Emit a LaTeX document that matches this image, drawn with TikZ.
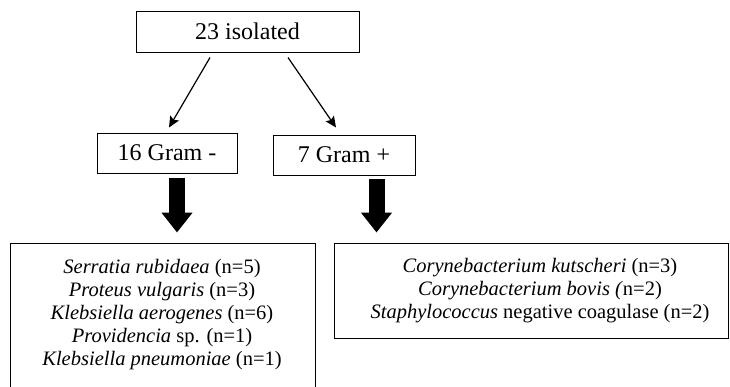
\documentclass[tikz,border=0pt]{standalone}
\usepackage{fontspec}
\setmainfont{Liberation Serif}
\usetikzlibrary{arrows.meta}
\begin{document}
\begin{tikzpicture}[x=1pt,y=-1pt,
  box/.style={draw=black,line width=1pt,inner sep=0pt,font=\fontsize{24}{28}\selectfont},
  bigbox/.style={draw=black,line width=1pt,inner sep=0pt},
  list/.style={align=center,inner sep=0pt,font=\fontsize{20.5}{23}\selectfont},
  thinarrow/.style={line width=1.2pt,-{Stealth[length=11pt,width=10pt,inset=2pt]}},
  fatarrow/.style={line width=16pt,-{Triangle[length=20pt,width=30pt]}}]
\useasboundingbox (0,0) rectangle (730,386);
\clip (0,0) rectangle (730,386);
\node[box,minimum width=223pt,minimum height=41pt] (top) at (247.5,31.5) {23 isolated};
\node[box,minimum width=140pt,minimum height=40pt] (gneg) at (167,153) {16 Gram -};
\node[box,minimum width=142pt,minimum height=40pt] (gpos) at (344,155) {7 Gram +};
\node[bigbox,minimum width=305pt,minimum height=170pt] (gnbox) at (162.5,328) {};
\node[bigbox,minimum width=394pt,minimum height=95pt] (gpbox) at (531,290.5) {};
\node[list] (gntext) at (162,314.5) {\textit{Serratia rubidaea} (n=5)\\ \textit{Proteus vulgaris} (n=3)\\ \textit{Klebsiella aerogenes} (n=6)\\ \textit{Providencia} sp. (n=1)\\ \textit{Klebsiella pneumoniae} (n=1)};
\node[list] (gptext) at (540,291) {\textit{Corynebacterium kutscheri} (n=3)\\ \textit{Corynebacterium bovis (}n=2)\\ \textit{Staphylococcus} negative coagulase (n=2)};
\draw[thinarrow] ([xshift=-37.5pt,yshift=-5pt]top.south) -- ([xshift=2pt,yshift=5pt]gneg.north);
\draw[thinarrow] ([xshift=40.5pt,yshift=-5pt]top.south) -- ([xshift=-8pt,yshift=7pt]gpos.north);
\draw[fatarrow] ([xshift=10pt,yshift=-4pt]gneg.south) -- ++(0,55);
\draw[fatarrow] ([xshift=32.5pt,yshift=-3pt]gpos.south) -- ++(0,54);
\end{tikzpicture}
\end{document}
